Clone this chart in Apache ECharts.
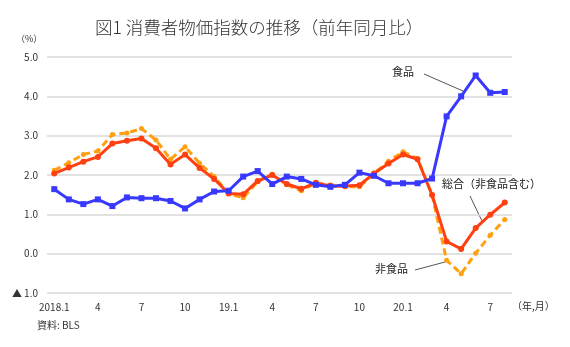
<!DOCTYPE html>
<html><head><meta charset="utf-8">
<script src="https://cdn.jsdelivr.net/npm/echarts@6/dist/echarts.min.js"></script>
<style>html,body{margin:0;padding:0;background:#fff}#c{width:570px;height:347px}</style>
</head><body><div id="c"></div>
<script>
const categories = ['2018.1','2018.2','2018.3','2018.4','2018.5','2018.6','2018.7','2018.8','2018.9','2018.10','2018.11','2018.12',
  '2019.1','2019.2','2019.3','2019.4','2019.5','2019.6','2019.7','2019.8','2019.9','2019.10','2019.11','2019.12',
  '2020.1','2020.2','2020.3','2020.4','2020.5','2020.6','2020.7','2020.8'];
const tickLabels = ['2018.1','','','4','','','7','','','10','','',
  '19.1','','','4','','','7','','','10','','',
  '20.1','','','4','','','7',''];
const food = [1.64,1.38,1.26,1.38,1.21,1.43,1.41,1.41,1.34,1.15,1.38,1.58,
  1.60,1.96,2.10,1.77,1.96,1.90,1.75,1.70,1.75,2.06,1.98,1.79,
  1.79,1.79,1.91,3.49,4.00,4.53,4.09,4.11];
const total = [2.04,2.19,2.34,2.46,2.80,2.87,2.93,2.68,2.27,2.52,2.18,1.90,
  1.53,1.51,1.85,2.00,1.77,1.65,1.80,1.72,1.72,1.74,2.04,2.29,
  2.52,2.40,1.49,0.31,0.12,0.65,0.99,1.30];
const nonFood = [2.12,2.31,2.52,2.61,3.03,3.07,3.18,2.89,2.40,2.72,2.30,1.96,
  1.53,1.42,1.83,2.02,1.75,1.60,1.80,1.75,1.70,1.70,2.04,2.35,
  2.59,2.42,1.49,-0.17,-0.51,0.01,0.47,0.87];
const yTicks = {min:-1, max:5, interval:1};

const FONT = '"Noto Sans CJK JP", "Noto Sans", sans-serif';
const chart = echarts.init(document.getElementById('c'), null, {renderer:'canvas'});
chart.setOption({
  animation:false,
  backgroundColor:'#fff',
  textStyle:{fontFamily:FONT},
  grid:{left:47, right:58, top:57, bottom:54, containLabel:false},
  xAxis:{
    type:'category', data:categories, boundaryGap:true,
    axisLine:{show:false}, axisTick:{show:false},
    axisLabel:{interval:0, formatter:(v,i)=>tickLabels[i], color:'#333', fontSize:10, fontFamily:FONT, margin:9}
  },
  yAxis:{
    type:'value', min:yTicks.min, max:yTicks.max, interval:yTicks.interval,
    axisLine:{show:false}, axisTick:{show:false},
    splitLine:{lineStyle:{color:'#d9d9d9', width:1.5}},
    axisLabel:{formatter:v=> v<0 ? '▲ '+Math.abs(v).toFixed(1) : v.toFixed(1), color:'#333', fontSize:10, fontFamily:FONT, margin:9}
  },
  series:[
    {name:'非食品', type:'line', data:nonFood, symbol:'circle', symbolSize:5,
     lineStyle:{color:'#ffa010', width:3, type:[7,4]}, itemStyle:{color:'#ffa010'}, z:2},
    {name:'総合（非食品含む）', type:'line', data:total, symbol:'circle', symbolSize:6,
     lineStyle:{color:'#ff4010', width:3}, itemStyle:{color:'#ff4010'}, z:3},
    {name:'食品', type:'line', data:food, symbol:'rect', symbolSize:6,
     lineStyle:{color:'#3838ff', width:3}, itemStyle:{color:'#3838ff'}, z:4}
  ],
  graphic:[
    {type:'text', left:95, top:19, style:{text:'図1 消費者物価指数の推移（前年同月比）', fontSize:17.5, fontWeight:300, fontFamily:FONT, fill:'#333'}},
    {type:'text', left:16, top:34, style:{text:'（%）', fontSize:9, fontFamily:FONT, fill:'#333'}},
    {type:'text', left:37, top:320, style:{text:'資料: BLS', fontSize:10, fontFamily:FONT, fill:'#333'}},
    {type:'text', left:512, top:301, style:{text:'（年,月）', fontSize:10, fontFamily:FONT, fill:'#333'}},
    {type:'text', left:392, top:66, style:{text:'食品', fontSize:11, fontFamily:FONT, fill:'#222'}},
    {type:'line', shape:{x1:424, y1:74, x2:463, y2:91}, style:{stroke:'#555', lineWidth:1}},
    {type:'text', left:442, top:178, style:{text:'総合（非食品含む）', fontSize:11, fontFamily:FONT, fill:'#222'}},
    {type:'line', shape:{x1:470, y1:196, x2:482, y2:221}, style:{stroke:'#555', lineWidth:1}},
    {type:'text', left:375, top:263, style:{text:'非食品', fontSize:11, fontFamily:FONT, fill:'#222'}},
    {type:'line', shape:{x1:415, y1:270, x2:445, y2:262}, style:{stroke:'#555', lineWidth:1}}
  ]
});
</script></body></html>
